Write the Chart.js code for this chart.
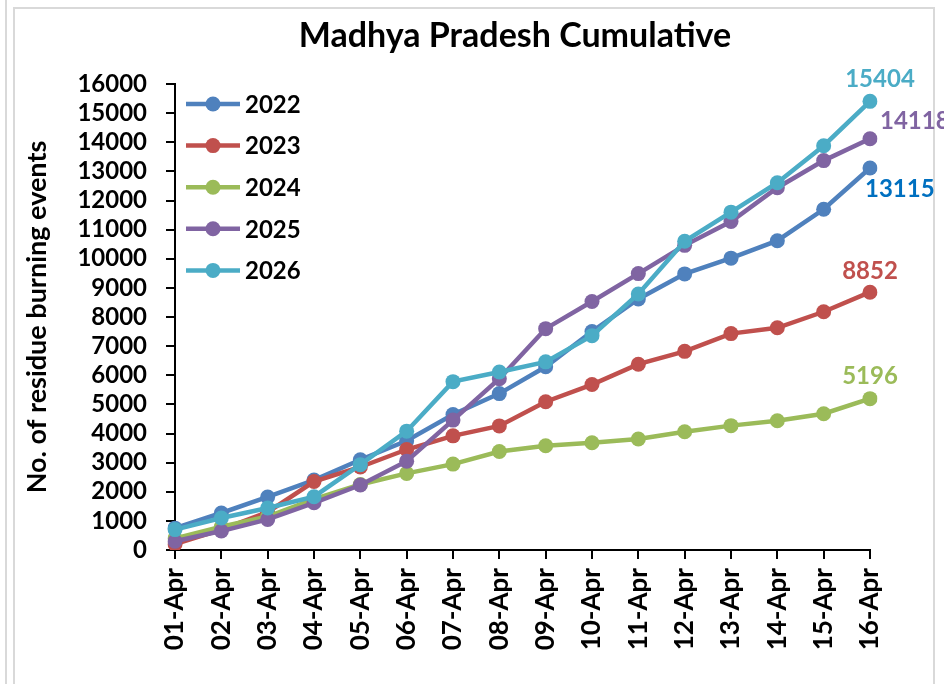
<!DOCTYPE html>
<html>
<head>
<meta charset="utf-8">
<script src="https://cdn.jsdelivr.net/npm/chart.js@4.4.1/dist/chart.umd.min.js"></script>
<style>
  html, body { margin: 0; padding: 0; background: #fff; }
  #wrap { position: relative; width: 944px; height: 684px; overflow: hidden; }
  #c { position: absolute; left: 0; top: 0; }
  .line-left { position: absolute; left: 5px; top: 0; width: 2px; height: 684px; background: #d9d9d9; }
  .frame { position: absolute; left: 13px; top: 7px; width: 922px; height: 700px; border: 2px solid #d9d9d9; box-sizing: border-box; pointer-events: none; }
</style>
</head>
<body>
<div id="wrap">
  <div class="line-left"></div>
  <div class="frame"></div>
  <canvas id="c" width="944" height="684"></canvas>
</div>
<script>
const titleText = 'Madhya Pradesh Cumulative';
const yAxisTitle = 'No. of residue burning events';
const categories = ['01-Apr','02-Apr','03-Apr','04-Apr','05-Apr','06-Apr','07-Apr','08-Apr','09-Apr','10-Apr','11-Apr','12-Apr','13-Apr','14-Apr','15-Apr','16-Apr'];
const seriesNames = ['2022','2023','2024','2025','2026'];
const s2022 = [750, 1270, 1820, 2400, 3100, 3750, 4650, 5370, 6290, 7500, 8620, 9480, 10020, 10620, 11700, 13115];
const s2023 = [200, 700, 1300, 2350, 2850, 3450, 3920, 4260, 5090, 5680, 6380, 6820, 7430, 7630, 8180, 8852];
const s2024 = [400, 800, 1150, 1750, 2250, 2630, 2950, 3380, 3580, 3680, 3810, 4060, 4270, 4440, 4680, 5196];
const s2025 = [300, 650, 1050, 1620, 2230, 3050, 4460, 5880, 7600, 8530, 9490, 10460, 11280, 12440, 13370, 14118];
const s2026 = [700, 1100, 1440, 1830, 2930, 4080, 5780, 6110, 6460, 7360, 8790, 10600, 11600, 12610, 13880, 15404];
const seriesColors = ['#4F81BD','#C0504D','#9BBB59','#8064A2','#4BACC6'];
const labelColors = ['#0070C0','#C0504D','#9BBB59','#8064A2','#4BACC6'];

const FONT = 'Lato, "Open Sans", sans-serif';
const allSeries = [s2022, s2023, s2024, s2025, s2026];

const datasets = allSeries.map((d, i) => ({
  label: seriesNames[i],
  data: d,
  borderColor: seriesColors[i],
  backgroundColor: seriesColors[i],
  pointBackgroundColor: seriesColors[i],
  pointBorderColor: seriesColors[i],
  borderWidth: 4.5,
  pointRadius: 7.5,
  pointBorderWidth: 0,
  tension: 0,
  order: allSeries.length - i
}));

// data label placement relative to the last point (dx, dy, align)
const lastLabelPlace = [
  { dx: -5, dy: 21, align: 'left' },   // 2022
  { dx: 0, dy: -21, align: 'center' }, // 2023
  { dx: 0, dy: -22, align: 'center' }, // 2024
  { dx: 10, dy: -18, align: 'left' },  // 2025
  { dx: 10, dy: -22, align: 'center' } // 2026
];

const extras = {
  id: 'extras',
  afterDatasetsDraw(chart) {
    const ctx = chart.ctx;
    ctx.save();
    chart.data.datasets.forEach((ds, i) => {
      const meta = chart.getDatasetMeta(i);
      const pt = meta.data[meta.data.length - 1];
      const p = lastLabelPlace[i];
      ctx.font = 'bold 24px ' + FONT;
      ctx.fillStyle = labelColors[i];
      ctx.textAlign = p.align;
      ctx.textBaseline = 'middle';
      ctx.fillText(String(ds.data[ds.data.length - 1]), pt.x + p.dx, pt.y + p.dy);
    });
    const ca = chart.chartArea;
    chart.data.datasets.forEach((ds, i) => {
      const y = ca.top + 20 + i * 41.6;
      const x0 = ca.left + 11, x1 = ca.left + 65;
      ctx.strokeStyle = ds.borderColor;
      ctx.lineWidth = 4.5;
      ctx.beginPath(); ctx.moveTo(x0, y); ctx.lineTo(x1, y); ctx.stroke();
      ctx.fillStyle = ds.borderColor;
      ctx.beginPath(); ctx.arc((x0 + x1) / 2, y, 7.5, 0, Math.PI * 2); ctx.fill();
      ctx.fillStyle = '#000';
      ctx.font = 'bold 24px ' + FONT;
      ctx.textAlign = 'left';
      ctx.textBaseline = 'middle';
      ctx.fillText(ds.label, x1 + 5, y + 1);
    });
    ctx.fillStyle = '#000';
    ctx.font = 'bold 34px ' + FONT;
    ctx.textAlign = 'center';
    ctx.textBaseline = 'alphabetic';
    ctx.fillText(titleText, 515, 47);
    ctx.restore();
  }
};

new Chart(document.getElementById('c'), {
  type: 'line',
  data: { labels: categories, datasets },
  options: {
    responsive: false,
    animation: false,
    layout: { padding: { top: 84, right: 74, bottom: 0, left: 0 } },
    plugins: { legend: { display: false }, title: { display: false }, tooltip: { enabled: false } },
    scales: {
      x: {
        offset: false,
        afterFit(scale) { scale.height = 134; },
        grid: { display: true, drawOnChartArea: false, drawTicks: true, tickLength: 9, color: '#000', lineWidth: 2 },
        border: { display: true, color: '#000', width: 2 },
        ticks: { color: '#000', font: { family: FONT, size: 26, weight: 'bold' }, minRotation: 90, maxRotation: 90, padding: 9, autoSkip: false }
      },
      y: {
        min: 0, max: 16000,
        afterFit(scale) { scale.width = 175; },
        grid: { display: true, drawOnChartArea: false, drawTicks: true, tickLength: 9, color: '#000', lineWidth: 2 },
        border: { display: true, color: '#000', width: 2 },
        ticks: { stepSize: 1000, autoSkip: false, color: '#000', font: { family: FONT, size: 24, weight: 'bold' }, padding: 19,
                 callback: (v) => String(v) },
        title: { display: true, text: yAxisTitle, color: '#000', font: { family: FONT, size: 27, weight: 'bold' }, padding: { top: 21, bottom: 0 } }
      }
    }
  },
  plugins: [extras]
});
</script>
</body>
</html>
